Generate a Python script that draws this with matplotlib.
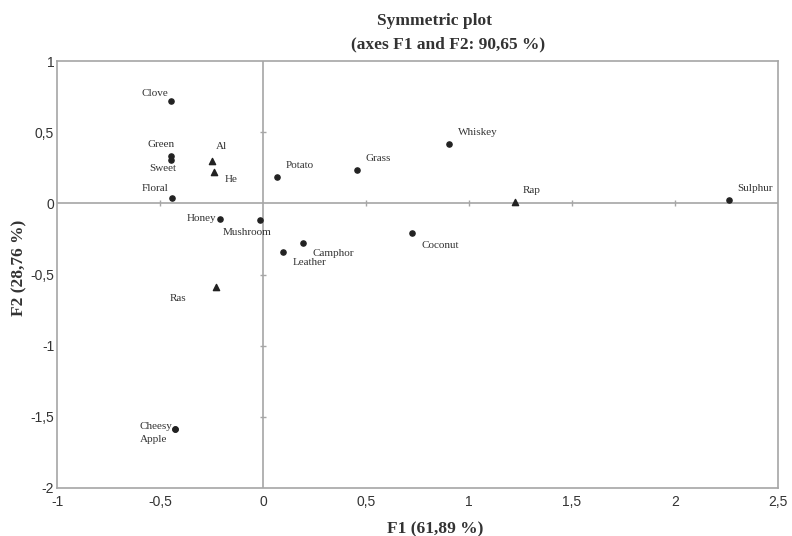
import matplotlib.pyplot as plt
from matplotlib.ticker import FuncFormatter

# active variables (circles) and supplementary ones (triangles)
names = ['Clove', 'Green', 'Sweet', 'Floral', 'Potato', 'Grass', 'Whiskey', 'Sulphur',
         'Honey', 'Mushroom', 'Camphor', 'Leather', 'Coconut', 'Cheesy', 'Apple']
f1 = [-0.447, -0.447, -0.447, -0.443, 0.066, 0.456, 0.905, 2.264,
      -0.209, -0.015, 0.194, 0.099, 0.725, -0.427, -0.427]
f2 = [0.719, 0.333, 0.304, 0.039, 0.183, 0.234, 0.417, 0.023,
      -0.108, -0.117, -0.277, -0.340, -0.211, -1.586, -1.586]

sup_names = ['Al', 'He', 'Rap', 'Ras']
sup_f1 = [-0.246, -0.238, 1.223, -0.230]
sup_f2 = [0.299, 0.218, 0.007, -0.590]

# label offsets in pixels
offs = {'Clove': (-16, 8), 'Green': (-10, 12), 'Sweet': (-8, -8), 'Floral': (-17, 9),
        'Potato': (23, 12), 'Grass': (21, 12), 'Whiskey': (29, 12), 'Sulphur': (26, 12),
        'Honey': (-18, 0), 'Mushroom': (-13, -12), 'Camphor': (30, -11), 'Leather': (26, -11),
        'Coconut': (28, -12), 'Cheesy': (-19, 3), 'Apple': (-21, -10),
        'Al': (9, 14), 'He': (17, -7), 'Rap': (17, 12), 'Ras': (-38, -11)}

xticks = [-1, -0.5, 0, 0.5, 1, 1.5, 2, 2.5]
yticks = [-2, -1.5, -1, -0.5, 0, 0.5, 1]

grey = '#a6a6a6'
serif = 'Liberation Serif'

fig = plt.figure(figsize=(7.92, 5.36), dpi=100)
ax = fig.add_axes([0.072, 0.0896, 0.910, 0.7964])

# zero lines with small crossing ticks
ax.axhline(0, color=grey, lw=1.2, zorder=1)
ax.axvline(0, color=grey, lw=1.2, zorder=1)
ax.plot([t for t in xticks if t not in (-1, 0, 2.5)], [0] * 5, ls='none', marker='|',
        ms=5, mew=1, color=grey, zorder=1)
ax.plot([0] * 4, [t for t in yticks if t not in (-2, 0, 1)], ls='none', marker='_',
        ms=5, mew=1, color=grey, zorder=1)

ax.scatter(f1, f2, s=14, color='#222222', zorder=3)
ax.scatter(sup_f1, sup_f2, s=20, marker='^', color='#222222', zorder=3)

for n, x, y in zip(names + sup_names, f1 + sup_f1, f2 + sup_f2):
    ax.annotate(n, (x, y), xytext=offs[n], textcoords='offset pixels',
                ha='center', va='center', fontsize=8, family=serif, color='#333333')

ax.set_xlim(-1, 2.5)
ax.set_ylim(-2, 1)
ax.set_xticks(xticks)
ax.set_yticks(yticks)
fmt = FuncFormatter(lambda v, p: ('%g' % v).replace('.', ','))
ax.xaxis.set_major_formatter(fmt)
ax.yaxis.set_major_formatter(fmt)
ax.tick_params(length=0, labelsize=10, colors='#333333')
ax.tick_params(axis='x', pad=5)
ax.tick_params(axis='y', pad=2)
for lab in ax.get_xticklabels() + ax.get_yticklabels():
    lab.set_family('Liberation Sans')
for sp in ax.spines.values():
    sp.set_color(grey)
    sp.set_linewidth(1.2)

fig.text(0.548, 1 - 21 / 536, 'Symmetric plot', ha='center', va='center',
         fontsize=12.5, fontweight='bold', family=serif, color='#333333')
fig.text(0.566, 1 - 44 / 536, '(axes F1 and F2: 90,65 %)', ha='center', va='center',
         fontsize=12.5, fontweight='bold', family=serif, color='#333333')
fig.text(435 / 792, 1 - 529 / 536, 'F1 (61,89 %)', ha='center', va='center',
         fontsize=12.5, fontweight='bold', family=serif, color='#333333')
fig.text(19 / 792, 1 - 268 / 536, 'F2 (28,76 %)', ha='center', va='center', rotation=90,
         fontsize=12.5, fontweight='bold', family=serif, color='#333333')

fig.savefig('out.png', dpi=100)
